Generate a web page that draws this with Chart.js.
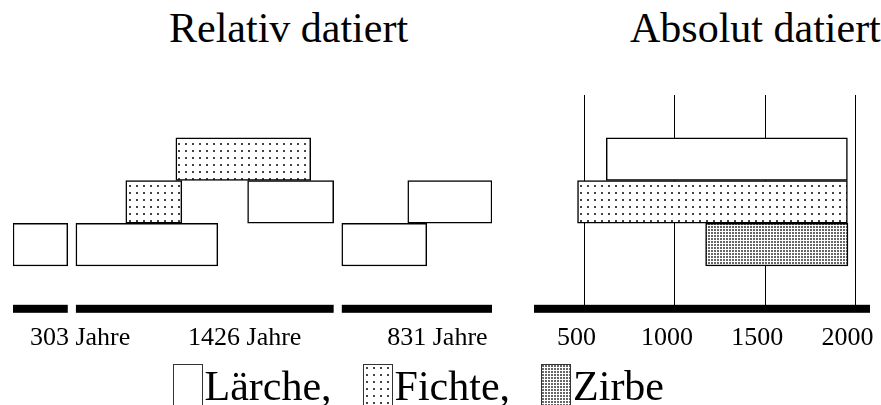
<!DOCTYPE html>
<html lang="de">
<head>
<meta charset="utf-8">
<title>Relativ und absolut datiert</title>
<script src="https://cdn.jsdelivr.net/npm/chart.js@4.4.1/dist/chart.umd.min.js"></script>
<style>
  html, body { margin: 0; padding: 0; background: #fff; }
  body { width: 881px; height: 405px; position: relative; overflow: hidden;
         font-family: "Liberation Serif", "Times New Roman", serif; color: #000; }
  #relChart, #absChart { position: absolute; top: 0; }
  #relChart { left: 0; }
  #absChart { left: 500px; }
  .title { position: absolute; top: 7px; font-size: 42px; line-height: 42px; white-space: nowrap; }
  #legend { position: absolute; top: 364px; left: 172.5px; display: flex; align-items: flex-start;
            font-size: 42px; line-height: 42px; white-space: nowrap; }
  .item { display: flex; align-items: flex-start; margin-right: 31px; }
  .item canvas { display: block; }
  .item span { margin-left: 2px; margin-top: 1px; }
</style>
</head>
<body>
<div class="title" style="left:169px">Relativ datiert</div>
<div class="title" style="left:630px">Absolut datiert</div>
<canvas id="relChart" width="530" height="405"></canvas>
<canvas id="absChart" width="400" height="405"></canvas>
<div id="legend"></div>
<script>
// Relativ datiert: Länge der drei schwimmenden Chronologien (Jahre)
const groupLengths = [303, 1426, 831];
// Einzelserien: [Chronologie, Beginn, Ende, Zeile], Jahre ab Beginn der Chronologie
const relLaerche = [
    [0, 0, 303, 3],
    [1, 0, 785, 3],
    [1, 950, 1426, 2],
    [2, 0, 470, 3],
    [2, 365, 831, 2]
];
const relFichte = [
    [1, 276, 586, 2],
    [1, 553, 1299, 1]
];

// Absolut datiert (Jahr n. Chr.)
const species = ['Lärche', 'Fichte', 'Zirbe'];
const absStart = [620, 461, 1170];
const absEnd = [1955, 1955, 1958];
const yearTicks = [500, 1000, 1500, 2000];

const rows = ['r0', 'r1', 'r2', 'r3', 'r4'];

// Layout
const GAP = 45;                              // Abstand zwischen den Chronologien
const relMax = 2650;
const lengthLabelAt = [371, 1282, 2348];     // wo die "Jahre"-Beschriftung steht
const groupStart = [];
groupLengths.reduce((pos, len, i) => { groupStart[i] = pos; return pos + len + GAP; }, 0);

Chart.defaults.font.family = '"Liberation Serif", "Times New Roman", serif';
Chart.defaults.color = '#000';

function makePattern(size, dot, color) {
    const c = document.createElement('canvas');
    c.width = size;
    c.height = size;
    const g = c.getContext('2d');
    g.fillStyle = '#fff';
    g.fillRect(0, 0, size, size);
    g.fillStyle = color;
    g.fillRect(Math.floor(size / 2), Math.floor(size / 2), dot, dot);
    return g.createPattern(c, 'repeat');
}

const fills = {
    'Lärche': '#fff',
    'Fichte': makePattern(7, 2, '#444'),
    'Zirbe': makePattern(3, 2, '#666')
};

// black blocks under the bars (chronology lengths / time axis)
const blockBars = {
    id: 'blockBars',
    afterDraw(chart, args, opts) {
        const { ctx, chartArea, scales: { x } } = chart;
        ctx.save();
        ctx.fillStyle = '#000';
        opts.ranges.forEach(([a, b]) => {
            const x1 = x.getPixelForValue(a);
            const x2 = x.getPixelForValue(b);
            ctx.fillRect(x1, chartArea.bottom - 4, x2 - x1, 8);
        });
        ctx.restore();
    }
};

const barStyle = {
    barPercentage: 1,
    categoryPercentage: 1,
    grouped: false,
    borderSkipped: false,
    borderWidth: 1.5,
    borderColor: '#000'
};

const tickFont = { size: 26 };

function relPoints(list) {
    return list.map(([g, a, b, row]) => ({ x: [groupStart[g] + a, groupStart[g] + b], y: rows[row] }));
}

new Chart(document.getElementById('relChart'), {
    type: 'bar',
    data: {
        labels: rows,
        datasets: [
            Object.assign({ label: 'Fichte', data: relPoints(relFichte), backgroundColor: fills['Fichte'] }, barStyle),
            Object.assign({ label: 'Lärche', data: relPoints(relLaerche), backgroundColor: fills['Lärche'] }, barStyle)
        ]
    },
    options: {
        indexAxis: 'y',
        responsive: false,
        animation: false,
        layout: { padding: { left: 13, right: 38, top: 95, bottom: 37 } },
        scales: {
            x: {
                type: 'linear',
                min: 0,
                max: relMax,
                afterBuildTicks: s => { s.ticks = lengthLabelAt.map(v => ({ value: v })); },
                ticks: {
                    font: tickFont,
                    padding: 14,
                    maxRotation: 0,
                    autoSkip: false,
                    callback: (v, i) => groupLengths[i] + ' Jahre'
                },
                grid: { display: false, drawTicks: false },
                border: { display: false }
            },
            y: { type: 'category', display: false }
        },
        plugins: {
            legend: { display: false },
            tooltip: { enabled: false },
            blockBars: {
                ranges: groupLengths.map((len, i) => [groupStart[i], groupStart[i] + len])
            }
        }
    },
    plugins: [blockBars]
});

const absMin = 220, absMax = 2080;

new Chart(document.getElementById('absChart'), {
    type: 'bar',
    data: {
        labels: rows,
        datasets: [Object.assign({
            label: 'Jahre',
            data: species.map((s, i) => ({ x: [absStart[i], absEnd[i]], y: rows[i + 1] })),
            backgroundColor: species.map(s => fills[s])
        }, barStyle)]
    },
    options: {
        indexAxis: 'y',
        responsive: false,
        animation: false,
        layout: { padding: { left: 34, right: 30, top: 95, bottom: 37 } },
        scales: {
            x: {
                type: 'linear',
                min: absMin,
                max: absMax,
                z: 1,
                afterBuildTicks: s => { s.ticks = yearTicks.map(v => ({ value: v })); },
                ticks: {
                    font: tickFont,
                    padding: 14,
                    labelOffset: -8,
                    maxRotation: 0,
                    autoSkip: false,
                    callback: v => String(v)
                },
                grid: { color: '#000', lineWidth: 1, drawTicks: false },
                border: { display: false }
            },
            y: { type: 'category', display: false }
        },
        plugins: {
            legend: { display: false },
            tooltip: { enabled: false },
            blockBars: { ranges: [[absMin, absMax]] }
        }
    },
    plugins: [blockBars]
});

// legend
const legend = document.getElementById('legend');
species.forEach((name, i) => {
    const item = document.createElement('div');
    item.className = 'item';
    const sw = document.createElement('canvas');
    sw.width = 30;
    sw.height = 44;
    const g = sw.getContext('2d');
    g.fillStyle = fills[name];
    g.fillRect(0, 0, 30, 44);
    g.strokeStyle = '#333';
    g.lineWidth = 1;
    g.strokeRect(0.5, 0.5, 29, 43);
    const txt = document.createElement('span');
    txt.textContent = name + (i < species.length - 1 ? ',' : '');
    item.appendChild(sw);
    item.appendChild(txt);
    legend.appendChild(item);
});
</script>
</body>
</html>
